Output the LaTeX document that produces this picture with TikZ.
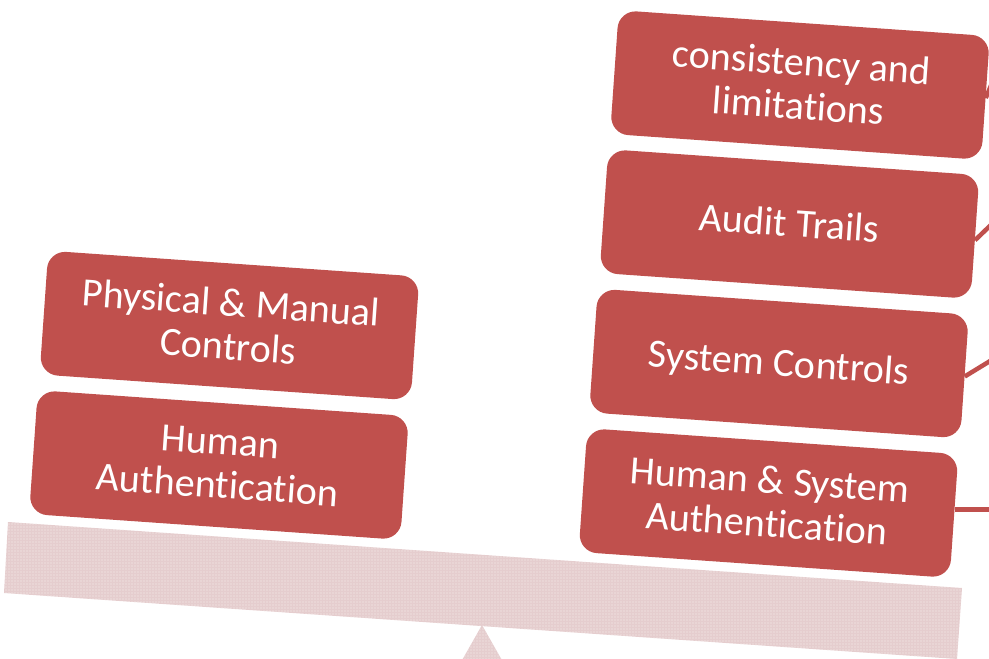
\documentclass[tikz,border=0pt]{standalone}
\usepackage{fontspec}
\setmainfont{Carlito}[Ligatures=CommonOff]
\usetikzlibrary{patterns.meta,calc}
\definecolor{boxred}{HTML}{C0504D}
\definecolor{beampink}{HTML}{E5CDCE}
\tikzset{
  stackbox/.style={shape=rectangle,fill=boxred,rounded corners=18pt,minimum width=372pt,minimum height=124pt,
    inner sep=0pt,text=white,rotate=-4,align=center,text depth=3pt,font=\fontsize{40.1}{43.5}\selectfont},
  link/.style={draw=boxred,line width=4.5pt},
  beamshape/.style={fill=beampink,postaction={pattern={Dots[radius=0.55pt,distance=3pt]},pattern color=white!70!beampink}}
}
\begin{document}
\begin{tikzpicture}[x=1pt,y=-1pt]
\useasboundingbox (0,0) rectangle (989,659);
\clip (0,0) rectangle (989,659);
\coordinate (beamTL) at (8,522);
\coordinate (beamTR) at (962,588);
\coordinate (beamBR) at (957,659);
\coordinate (beamBL) at (4,593);
\fill[beamshape] (beamTL) -- (beamTR) -- (beamBR) -- (beamBL) -- cycle;
\fill[beamshape] (482,625) -- (503,662) -- (461,662) -- cycle;
\node[stackbox] (consistency) at (800,85) {consistency and\\limitations};
\node[stackbox] (audit) at (789.5,224) {Audit Trails};
\node[stackbox] (syscontrols) at (779,363.5) {System Controls};
\node[stackbox] (humansys) at (768.5,503) {Human \& System\\Authentication};
\node[stackbox] (physical) at (229.5,325.5) {Physical \& Manual\\Controls};
\node[stackbox] (human) at (219,465) {Human\\Authentication};
\coordinate (e1) at (995,76);
\coordinate (e2) at (995,221);
\coordinate (e3) at (995,358);
\coordinate (e4) at ($(humansys.2)+(40,0)$);
\draw[link] (consistency.east) -- (e1);
\draw[link] (audit.-1) -- (e2);
\draw[link] (syscontrols.east) -- (e3);
\draw[link] (humansys.2) -- (e4);
\end{tikzpicture}
\end{document}
